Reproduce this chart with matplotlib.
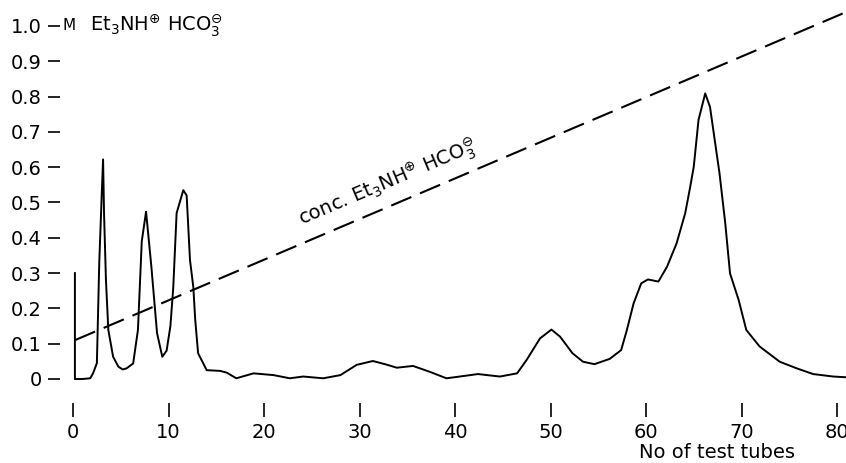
from matplotlib import pyplot as plt

# elution profile
tubes = [0.2, 0.2, 1.0, 1.8, 2.1, 2.5, 2.75, 3.0, 3.15, 3.25, 3.45, 3.7, 4.2, 4.75,
         5.2, 5.6, 6.3, 6.8, 7.2, 7.65, 8.2, 8.8, 9.35, 9.8, 10.2, 10.5, 10.85,
         11.55, 11.9, 12.25, 12.6, 12.8, 13.1, 14.0, 15.4, 16.1, 17.1, 18.9, 21.0,
         22.7, 24.1, 26.2, 28.0, 29.7, 31.4, 32.8, 33.9, 35.6, 37.3, 39.1, 40.5,
         42.4, 44.7, 46.5, 47.5, 48.9, 50.1, 51.0, 52.3, 53.4, 54.6, 56.2, 57.4,
         58.0, 58.7, 59.5, 60.2, 61.3, 62.2, 63.2, 64.1, 64.6, 65.0, 65.5, 66.2,
         66.7, 67.7, 68.3, 68.8, 69.7, 70.5, 71.9, 74.0, 75.8, 77.5, 79.6, 80.9]
absorbance = [0.30, 0.0, 0.0, 0.002, 0.016, 0.045, 0.33, 0.516, 0.622, 0.47, 0.28,
              0.139, 0.063, 0.035, 0.027, 0.03, 0.044, 0.139, 0.39, 0.474, 0.32,
              0.13, 0.063, 0.08, 0.15, 0.26, 0.47, 0.535, 0.52, 0.337, 0.26, 0.167,
              0.073, 0.025, 0.023, 0.018, 0.002, 0.016, 0.011, 0.002, 0.007, 0.002,
              0.011, 0.04, 0.051, 0.041, 0.032, 0.037, 0.021, 0.002, 0.007, 0.014,
              0.007, 0.016, 0.054, 0.115, 0.14, 0.12, 0.073, 0.049, 0.042, 0.057,
              0.082, 0.139, 0.214, 0.271, 0.282, 0.276, 0.318, 0.384, 0.469, 0.54,
              0.601, 0.734, 0.809, 0.771, 0.582, 0.441, 0.299, 0.224, 0.139, 0.092,
              0.049, 0.03, 0.014, 0.007, 0.005]

# salt gradient (dashed)
gradient_x = [0.2, 81.0]
gradient_y = [0.11, 1.04]

x_ticks = [0, 10, 20, 30, 40, 50, 60, 70, 80]
y_ticks = [0, 0.1, 0.2, 0.3, 0.4, 0.5, 0.6, 0.7, 0.8, 0.9, 1.0]
y_labels = ['0', '0.1', '0.2', '0.3', '0.4', '0.5', '0.6', '0.7', '0.8', '0.9', '1.0']

salt = r'$\mathregular{Et_3NH^{\oplus}\ HCO_3^{\ominus}}$'


def plot_chromatogram():
    plt.rcParams['font.family'] = ['DejaVu Sans']
    fig = plt.figure(figsize=(8.46, 4.63), dpi=100)
    ax = fig.add_axes([73 / 846, 84 / 463, (846 - 73) / 846, (379 - 26) / 463])

    ax.plot(tubes, absorbance, color='black', lw=1.4, clip_on=False,
            solid_joinstyle='round')
    ax.plot(gradient_x, gradient_y, color='black', lw=1.5, dashes=(10.5, 4.5),
            clip_on=False)

    ax.set_xlim(0, (846 - 73) / 9.55)
    ax.set_ylim(0, 1.0)

    for side in ['top', 'right']:
        ax.spines[side].set_visible(False)
    ax.spines['left'].set_position(('outward', 18))
    ax.spines['bottom'].set_position(('outward', 27.4))
    ax.spines['left'].set_visible(False)
    ax.spines['bottom'].set_visible(False)

    ax.set_xticks(x_ticks)
    ax.set_yticks(y_ticks)
    ax.set_yticklabels(y_labels)
    ax.tick_params(axis='y', direction='in', length=8.6, width=1.2, pad=4.3,
                   labelsize=14)
    ax.tick_params(axis='x', direction='in', length=10, width=1.2, pad=4,
                   labelsize=14)

    ax.text(-1.05, 1.0, 'M', fontsize=11, ha='left', va='center', clip_on=False)
    ax.text(1.75, 1.0, salt, fontsize=14, ha='left', va='center', clip_on=False)
    ax.text(33.0, 0.555, 'conc. ' + salt, fontsize=14, rotation=23,
            rotation_mode='anchor', ha='center', va='center')

    fig.text(717 / 846, 1 - 452 / 463, 'No of test tubes', fontsize=14,
             ha='center', va='center')

    fig.savefig('out.png', dpi=100)


def main():
    plot_chromatogram()


if __name__ == "__main__":
    main()
